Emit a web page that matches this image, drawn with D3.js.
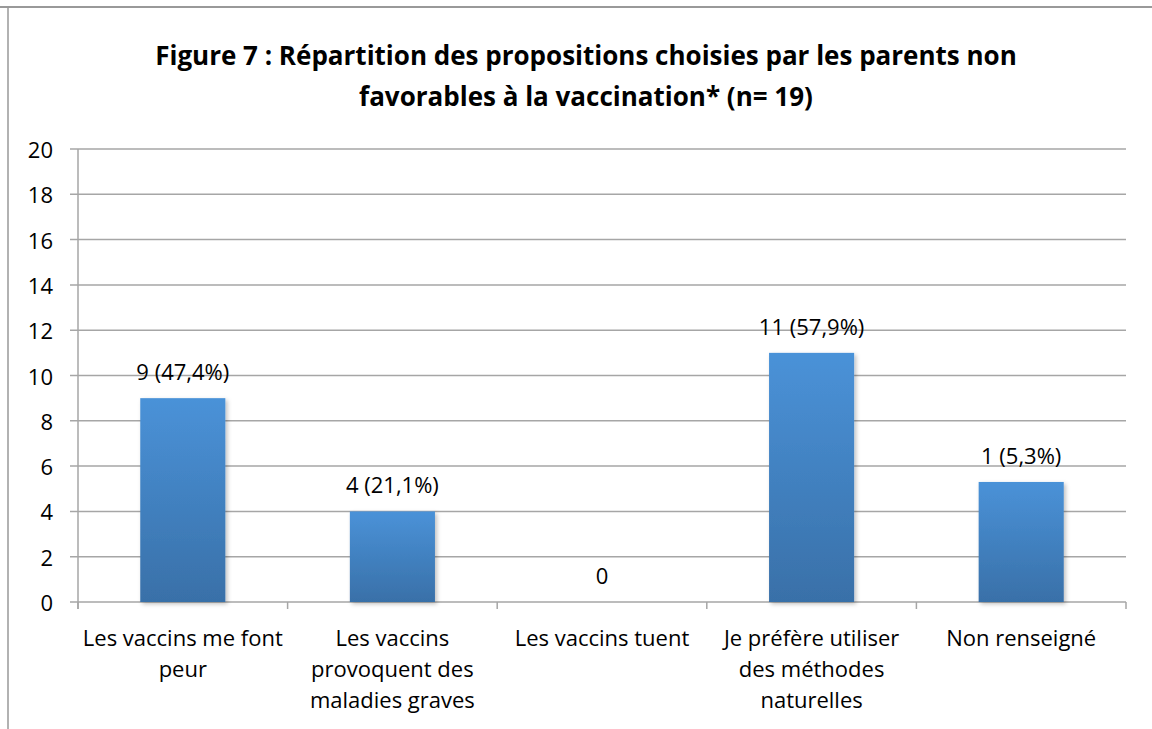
<!DOCTYPE html>
<html>
<head>
<meta charset="utf-8">
<script src="https://cdn.jsdelivr.net/npm/d3@7"></script>
<style>
  body { margin: 0; background: #fff; }
  text { font-family: "Open Sans", "Liberation Sans", sans-serif; fill: #000; }
</style>
</head>
<body>
<div id="chart"></div>
<script>
const categories = [
  ['Les vaccins me font', 'peur'],
  ['Les vaccins', 'provoquent des', 'maladies graves'],
  ['Les vaccins tuent'],
  ['Je préfère utiliser', 'des méthodes', 'naturelles'],
  ['Non renseigné']
];
const values = [9, 4, 0, 11, 5.3];
const labels = ['9 (47,4%)', '4 (21,1%)', '0', '11 (57,9%)', '1 (5,3%)'];
const yTicks = [0, 2, 4, 6, 8, 10, 12, 14, 16, 18, 20];
const titleLines = ['Figure 7 : Répartition des propositions choisies par les parents non', 'favorables à la vaccination* (n= 19)'];

const chart = () => {
  const width = 1152;
  const height = 729;
  const margin = { top: 149, right: 26, bottom: 127, left: 78 };
  const svg = d3.select('#chart')
    .append('svg')
    .attr('width', width)
    .attr('height', height);

  const defs = svg.append('defs');
  const grad = defs.append('linearGradient')
    .attr('id', 'bar-grad')
    .attr('x1', 0).attr('x2', 0).attr('y1', 0).attr('y2', 1);
  grad.append('stop').attr('offset', '0%').attr('stop-color', '#4a92d8');
  grad.append('stop').attr('offset', '100%').attr('stop-color', '#3970a8');
  const shadow = defs.append('filter').attr('id', 'shadow')
    .attr('x', '-10%').attr('y', '-5%').attr('width', '130%').attr('height', '115%');
  shadow.append('feDropShadow')
    .attr('dx', 2).attr('dy', 2).attr('stdDeviation', 2)
    .attr('flood-color', '#000').attr('flood-opacity', 0.25);

  // frame
  svg.append('line').attr('x1', 0).attr('x2', width).attr('y1', 7).attr('y2', 7)
    .attr('stroke', '#999').attr('stroke-width', 2);
  svg.append('line').attr('x1', 8).attr('x2', 8).attr('y1', 7).attr('y2', height)
    .attr('stroke', '#999').attr('stroke-width', 1.5);

  const x = d3.scaleBand()
    .domain(d3.range(categories.length))
    .range([margin.left, width - margin.right])
    .paddingInner(0.594)
    .paddingOuter(0.297);
  const xb = d3.scaleBand()
    .domain(d3.range(categories.length))
    .range([margin.left, width - margin.right]);
  const y = d3.scaleLinear()
    .domain([0, 20])
    .range([height - margin.bottom, margin.top]);

  // gridlines
  svg.append('g')
    .selectAll('line')
    .data(yTicks)
    .join('line')
    .attr('x1', margin.left - 8)
    .attr('x2', width - margin.right)
    .attr('y1', d => y(d))
    .attr('y2', d => y(d))
    .attr('stroke', '#a6a6a6')
    .attr('stroke-width', 1.5);

  // y axis line
  svg.append('line')
    .attr('x1', margin.left).attr('x2', margin.left)
    .attr('y1', y(20)).attr('y2', y(0) + 7)
    .attr('stroke', '#a6a6a6').attr('stroke-width', 1.5);

  // x ticks
  svg.append('g')
    .selectAll('line')
    .data(d3.range(categories.length + 1))
    .join('line')
    .attr('x1', d => d < categories.length ? xb(d) : width - margin.right)
    .attr('x2', d => d < categories.length ? xb(d) : width - margin.right)
    .attr('y1', y(0))
    .attr('y2', y(0) + 7)
    .attr('stroke', '#a6a6a6')
    .attr('stroke-width', 1.5);

  // y labels
  svg.append('g')
    .selectAll('text')
    .data(yTicks)
    .join('text')
    .attr('x', 53)
    .attr('y', d => y(d))
    .attr('text-anchor', 'end')
    .attr('dominant-baseline', 'central')
    .style('font-size', '22px')
    .text(d => d);

  // bars
  svg.append('g')
    .selectAll('rect')
    .data(values)
    .join('rect')
    .attr('x', (d, i) => x(i))
    .attr('y', d => y(d))
    .attr('width', x.bandwidth())
    .attr('height', d => y(0) - y(d))
    .attr('fill', 'url(#bar-grad)')
    .attr('filter', 'url(#shadow)');

  // data labels
  svg.append('g')
    .selectAll('text')
    .data(values)
    .join('text')
    .attr('x', (d, i) => x(i) + x.bandwidth() / 2)
    .attr('y', d => y(d) - 27)
    .attr('text-anchor', 'middle')
    .attr('dominant-baseline', 'central')
    .style('font-size', '22px')
    .text((d, i) => labels[i]);

  // category labels
  const cat = svg.append('g')
    .selectAll('text')
    .data(categories)
    .join('text')
    .attr('text-anchor', 'middle')
    .style('font-size', '22px');
  cat.selectAll('tspan')
    .data((d, i) => d.map(t => ({ t, i })))
    .join('tspan')
    .attr('x', d => xb(d.i) + xb.bandwidth() / 2)
    .attr('y', (d, j) => 637 + j * 31)
    .attr('dominant-baseline', 'central')
    .text(d => d.t);

  // title
  svg.append('g')
    .selectAll('text')
    .data(titleLines)
    .join('text')
    .attr('x', 586)
    .attr('y', (d, i) => 55 + i * 41)
    .attr('text-anchor', 'middle')
    .attr('dominant-baseline', 'central')
    .style('font-size', '26px')
    .style('font-weight', 'bold')
    .text(d => d);
}

chart();
</script>
</body>
</html>
